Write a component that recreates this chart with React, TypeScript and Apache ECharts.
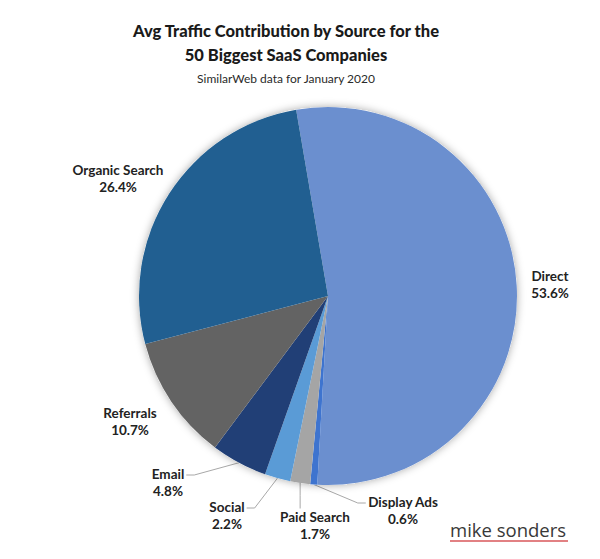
import React, { useEffect, useRef } from 'react';
import * as echarts from 'echarts';

const categories = ['Direct', 'Display Ads', 'Paid Search', 'Social', 'Email', 'Referrals', 'Organic Search'];
const shares = [53.6, 0.6, 1.7, 2.2, 4.8, 10.7, 26.4];
const colors = ['#6B8FCF', '#3E74CF', '#A5A5A5', '#5A9BD6', '#213F76', '#636363', '#215F91'];
const titleLines = ['Avg Traffic Contribution by Source for the', '50 Biggest SaaS Companies'];
const subtitle = 'SimilarWeb data for January 2020';
const brand = 'mike sonders';

// label layout (centre of each label block, in px) and guide line style
const labelAnchors: Record<string, [number, number]> = {
  'Direct': [550, 284],
  'Display Ads': [403, 510],
  'Paid Search': [315, 525],
  'Social': [227, 515],
  'Email': [168, 482],
  'Referrals': [130, 421],
  'Organic Search': [118, 178],
};
const guideSide: Record<string, string> = {
  'Display Ads': 'right',
  'Paid Search': 'down',
  'Social': 'left',
  'Email': 'left',
};
const LINE_H = 17;
const FONT = 'Lato, "Open Sans", sans-serif';

export default function App() {
  const ref = useRef<HTMLDivElement>(null);
  useEffect(() => {
    if (!ref.current) return;
    const chart = echarts.init(ref.current, undefined, { renderer: 'svg' });
    const data = categories.map((name, i) => ({
      name,
      value: shares[i],
      itemStyle: { color: colors[i] },
      labelLine: { show: !!guideSide[name] },
    }));
    chart.setOption({
      animation: false,
      backgroundColor: '#ffffff',
      title: {
        text: titleLines.join('\n'),
        subtext: subtitle,
        left: 281,
        top: 14,
        textAlign: 'center',
        itemGap: 3,
        textStyle: { fontFamily: FONT, fontSize: 16.5, fontWeight: 900, color: '#1a1a1a', lineHeight: 24 },
        subtextStyle: { fontFamily: FONT, fontSize: 12, color: '#2a2a2a', lineHeight: 16 },
      },
      series: [
        {
          type: 'pie',
          silent: true,
          center: [328, 296],
          radius: [0, 189],
          data: [{ value: 1, name: 'shadow' }],
          label: { show: false },
          labelLine: { show: false },
          itemStyle: { color: '#ffffff', shadowBlur: 8, shadowColor: 'rgba(0,0,0,0.35)' },
        },
        {
          type: 'pie',
          center: [328, 296],
          radius: [0, 189],
          startAngle: 99.7,
          clockwise: true,
          avoidLabelOverlap: false,
          data,
          label: {
            show: true,
            position: 'outside',
            formatter: '{n|{b}}\n{v|{c}%}',
            rich: {
              n: { fontFamily: FONT, fontSize: 13.5, fontWeight: 'bold', color: '#222222', lineHeight: LINE_H },
              v: { fontFamily: FONT, fontSize: 13.5, fontWeight: 'bold', color: '#222222', lineHeight: LINE_H },
            },
          },
          labelLine: { lineStyle: { color: '#a8a8a8', width: 1 } },
          labelLayout: (p: any) => {
            const name = categories[p.dataIndex];
            const anchor = labelAnchors[name];
            const cx = anchor[0];
            const cy = anchor[1];
            const w = p.labelRect.width;
            const h = p.labelRect.height;
            const left = cx - w / 2;
            const top = cy - h / 2;
            const firstMid = top + LINE_H / 2;
            const res: any = { x: cx, y: cy, align: 'center', verticalAlign: 'middle' };
            const pts = p.labelLinePoints;
            const side = guideSide[name];
            if (pts && pts.length && side) {
              const a = pts[0];
              if (side === 'left') {
                const end = [left + w + 2, firstMid];
                res.labelLinePoints = [a, [end[0] + 8, firstMid], end];
              } else if (side === 'right') {
                const end = [left - 2, firstMid];
                res.labelLinePoints = [a, [end[0] - 8, firstMid], end];
              } else {
                const endY = top - 1;
                res.labelLinePoints = [a, [a[0], (a[1] + endY) / 2], [a[0], endY]];
              }
            }
            return res;
          },
        },
      ],
      graphic: [
        {
          type: 'text',
          left: 450,
          top: 520,
          style: { text: brand, fontFamily: '"Open Sans", sans-serif', fontSize: 18.5, fill: '#383838' },
        },
        {
          type: 'line',
          shape: { x1: 450, y1: 541, x2: 568, y2: 541 },
          style: { stroke: '#D9575A', lineWidth: 1.5 },
        },
      ],
    });
    return () => chart.dispose();
  }, []);
  return <div ref={ref} style={{ position: 'absolute', left: 0, top: 0, width: 600, height: 559 }} />;
}
